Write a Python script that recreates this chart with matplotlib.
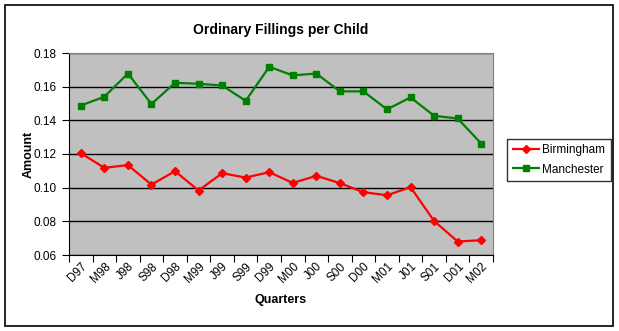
import numpy as np
import matplotlib.pyplot as plt
from matplotlib.patches import Rectangle

plt.rcParams['font.family'] = ['Liberation Sans', 'DejaVu Sans']

quarters = ['D97', 'M98', 'J98', 'S98', 'D98', 'M99', 'J99', 'S99', 'D99',
            'M00', 'J00', 'S00', 'D00', 'M01', 'J01', 'S01', 'D01', 'M02']
birmingham = [0.1205, 0.1118, 0.1134, 0.1018, 0.1098, 0.0983, 0.1086, 0.1060, 0.1092,
              0.1028, 0.1070, 0.1027, 0.0973, 0.0955, 0.1003, 0.0802, 0.0680, 0.0688]
manchester = [0.1488, 0.1540, 0.1678, 0.1497, 0.1623, 0.1617, 0.1607, 0.1516, 0.1718,
              0.1667, 0.1678, 0.1572, 0.1572, 0.1465, 0.1536, 0.1427, 0.1411, 0.1262]

fig = plt.figure(figsize=(6.19, 3.31), dpi=100)
fig.patch.set_facecolor('white')
# outer chart border
fig.patches.append(Rectangle((5/619, 1-326/331), 608/619, 321/331, transform=fig.transFigure,
                             fill=False, ec='black', lw=1.2))

ax = fig.add_axes([69/619, 1-255/331, (493-69)/619, (255-53)/331])
ax.set_facecolor('#C0C0C0')

x = np.arange(len(quarters))
ax.plot(x, birmingham, color='#FF0000', lw=1.6, marker='D', ms=4.5, mec='#FF0000', label='Birmingham', zorder=3)
ax.plot(x, manchester, color='#008000', lw=1.6, marker='s', ms=4.5, mec='#008000', label='Manchester', zorder=3)

ax.set_xlim(-0.5, len(quarters) - 0.5)
ax.set_ylim(0.06, 0.18)
ax.set_yticks(np.arange(0.06, 0.181, 0.02))
ax.set_yticklabels(['%.2f' % v for v in np.arange(0.06, 0.181, 0.02)], fontsize=8.5)
ax.yaxis.grid(True, color='black', lw=1)
ax.set_axisbelow(True)

ax.set_xticks(np.arange(-0.5, len(quarters)), minor=False)
ax.set_xticklabels([])
ax.set_xticks(x, minor=True)
ax.set_xticklabels(quarters, minor=True, rotation=45, ha='right', va='top', fontsize=8.5,
                   rotation_mode='anchor')
ax.tick_params(axis='x', which='minor', length=0, pad=4)
ax.tick_params(axis='x', which='major', length=5, direction='out', color='black')
ax.tick_params(axis='y', length=5, direction='out', color='black', pad=4)

for s in ['top', 'right']:
    ax.spines[s].set_color('#808080')
for s in ['left', 'bottom']:
    ax.spines[s].set_color('black')

ax.set_title('Ordinary Fillings per Child', fontsize=10, fontweight='bold', pad=14)
ax.set_xlabel('Quarters', fontsize=9, fontweight='bold', labelpad=6)
ax.set_ylabel('Amount', fontsize=9, fontweight='bold')
ax.yaxis.set_label_coords((35 - 69) / 424, 0.5)

leg = fig.legend(loc='center left', bbox_to_anchor=(501/619, 1-160/331), fontsize=8.5,
                 frameon=True, fancybox=False, edgecolor='black', handlelength=2.2,
                 borderpad=0.5, labelspacing=0.6, handletextpad=0.3)
leg.get_frame().set_linewidth(1)

fig.savefig('out.png', dpi=100)
